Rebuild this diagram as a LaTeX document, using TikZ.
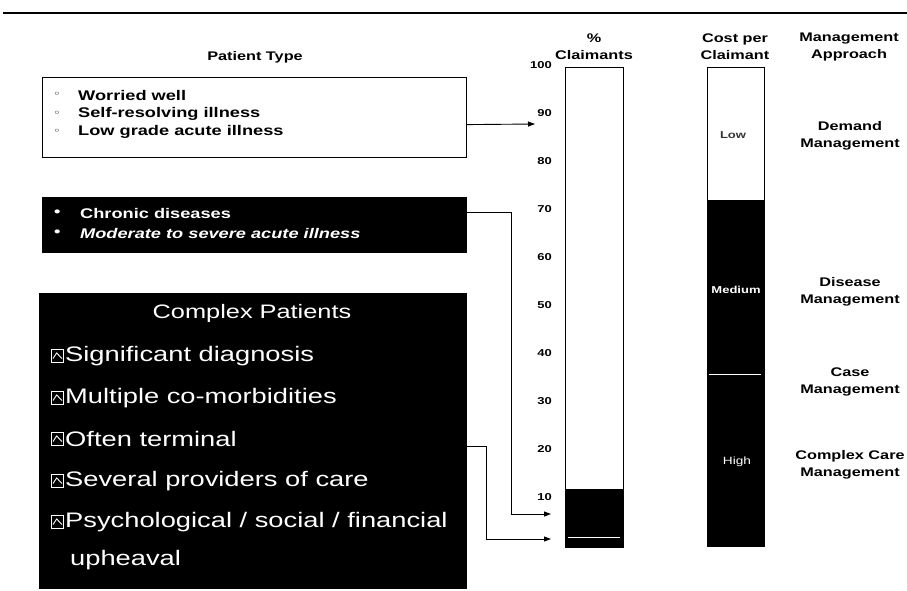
\documentclass[tikz,border=0pt]{standalone}
\usepackage{fontspec}
\setmainfont{Liberation Sans}[FakeStretch=1.3]
\newfontfamily\symfont{DejaVu Sans}[FakeStretch=1.3]
\usetikzlibrary{arrows.meta}
\begin{document}
\begin{tikzpicture}[x=1pt,y=-1pt,
  hdr/.style={font=\bfseries\fontsize{12.5}{17}\selectfont, align=center, inner sep=0},
  tick/.style={font=\bfseries\fontsize{10}{12}\selectfont, anchor=east, inner sep=0},
  arr/.style={-{Triangle[length=7pt,width=5pt]}, line width=0.9pt},
  boxw/.style={draw, line width=1.2pt, anchor=north west, inner sep=0},
  boxb/.style={fill=black, draw=black, anchor=north west, inner sep=0},
  lt/.style={anchor=west, inner sep=0, font=\bfseries\fontsize{14}{17}\selectfont},
  wt/.style={anchor=west, inner sep=0, text=white, font=\bfseries\fontsize{14}{17}\selectfont},
  cp/.style={anchor=west, inner sep=0, text=white, font=\fontsize{21}{25}\selectfont},
  barlbl/.style={inner sep=0, font=\bfseries\fontsize{10}{12}\selectfont},
  chkbox/.pic={\draw[white,line width=0.9pt] (-6,-6.5) rectangle (6,6.5);
               \draw[white,line width=0.9pt] (-4.5,2.5) -- (-0.8,-3) -- (4.5,2.5);}
]
\useasboundingbox (0,0) rectangle (907,591);

% top rule
\draw[line width=1.5pt] (3,13) -- (907,13);

% headers
\node[hdr] (hpt) at (255,57) {Patient Type};
\node[hdr] (hpc) at (594,47) {\%\\Claimants};
\node[hdr] (hcc) at (735,47) {Cost per\\Claimant};
\node[hdr] (hma) at (849,47) {Management\\Approach};

% patient type boxes
\node[boxw, minimum width=424pt, minimum height=80pt] (b1) at (42,77) {};
\node[inner sep=0, font=\symfont\fontsize{10}{10}\selectfont] (u1) at (57,95) {◦};
\node[inner sep=0, font=\symfont\fontsize{10}{10}\selectfont] (u2) at (57,114) {◦};
\node[inner sep=0, font=\symfont\fontsize{10}{10}\selectfont] (u3) at (57,132) {◦};
\node[lt] (w1) at (78,95) {Worried well};
\node[lt] (w2) at (78,114) {Self-resolving illness};
\node[lt] (w3) at (78,132) {Low grade acute illness};

\node[boxb, minimum width=424pt, minimum height=55pt] (b2) at (42,197) {};
\node[wt] (v1) at (54,213) {•};
\node[wt] (v2) at (54,233) {•};
\node[wt] (c1) at (80,213) {Chronic diseases};
\node[wt, font=\bfseries\itshape\fontsize{14}{17}\selectfont] (c2) at (80,233) {Moderate to severe acute illness};

\node[boxb, minimum width=427pt, minimum height=295pt] (b3) at (39,293) {};
\node[inner sep=0, text=white, font=\fontsize{19.5}{23}\selectfont] (cpt) at (252,313) {Complex Patients};
\pic (k1) at (57.5,356) {chkbox};
\pic (k2) at (57.5,398) {chkbox};
\pic (k3) at (57.5,439) {chkbox};
\pic (k4) at (57.5,481) {chkbox};
\pic (k5) at (57.5,522) {chkbox};
\node[cp] (p1) at (65,356) {Significant diagnosis};
\node[cp] (p2) at (65,398) {Multiple co-morbidities};
\node[cp] (p3) at (65,439) {Often terminal};
\node[cp] (p4) at (65,481) {Several providers of care};
\node[cp] (p5) at (65,522) {Psychological / social / financial};
\node[cp] (p6) at (70,560) {upheaval};

% % claimants bar
\node[draw, line width=1.3pt, anchor=north west, inner sep=0, minimum width=58pt, minimum height=480pt] (bar1) at (565,67) {};
\fill[black] (565,489) rectangle (623,547);
\draw[white, line width=0.8pt] (568,537) -- (620,537);

% tick labels
\foreach \v/\n in {100/t100,90/t90,80/t80,70/t70,60/t60,50/t50,40/t40,30/t30,20/t20,10/t10}{
  \node[tick] (\n) at (552,{545-4.8*\v}) {\v};
}

% cost per claimant bar
\node[draw, line width=1.3pt, anchor=north west, inner sep=0, minimum width=57pt, minimum height=479pt] (bar2) at (707,67) {};
\fill[black] (707,200) rectangle (764,546);
\draw[white, line width=0.8pt] (709,374) -- (761,374);
\node[barlbl, text=black!80] (low) at (733,135) {Low};
\node[barlbl, text=white] (med) at (736,290) {Medium};
\node[barlbl, text=white, font=\fontsize{10.5}{12}\selectfont] (hig) at (737,462) {High};

% management approach labels
\node[hdr] (m1) at (850,136) {Demand\\Management};
\node[hdr] (m2) at (850,292) {Disease\\Management};
\node[hdr] (m3) at (850,382) {Case\\Management};
\node[hdr] (m4) at (850,465) {Complex Care\\Management};

% connectors
\coordinate (t1) at (535,124);
\draw[arr] ([yshift=-7pt]b1.east) -- (t1);
\coordinate (j2) at (511,514);
\coordinate (t2) at (551,514);
\draw[arr] ([yshift=12.5pt]b2.east) -| (j2) -- (t2);
\coordinate (j3) at (486,539);
\coordinate (t3) at (551,539);
\draw[arr] ([yshift=-5.5pt]b3.east) -| (j3) -- (t3);
\end{tikzpicture}
\end{document}
